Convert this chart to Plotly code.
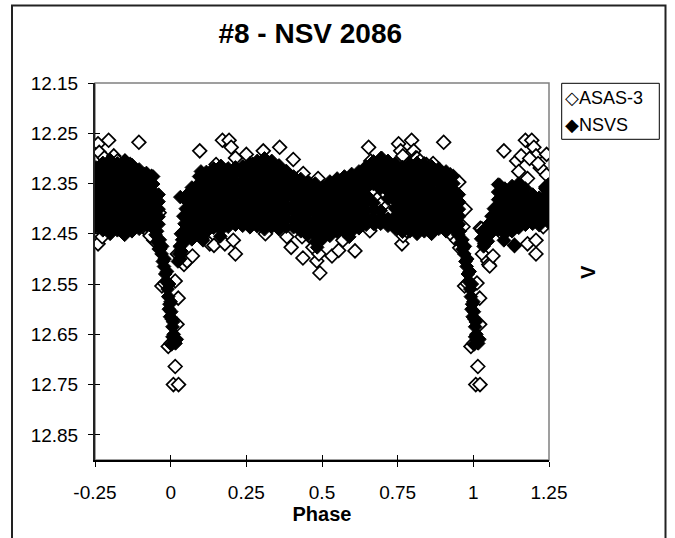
import plotly.graph_objects as go

W, H = 675, 538
PL, PR, PT, PB = 95, 549, 83, 460  # plot-area pixel edges

x_ticks = [-0.25, 0, 0.25, 0.5, 0.75, 1, 1.25]
x_tick_labels = ["-0.25", "0", "0.25", "0.5", "0.75", "1", "1.25"]
y_ticks = [12.15, 12.25, 12.35, 12.45, 12.55, 12.65, 12.75, 12.85]
y_tick_labels = ["12.15", "12.25", "12.35", "12.45", "12.55", "12.65", "12.75", "12.85"]

# ASAS-3 (open diamonds)
asas_phase = [
    -0.240, -0.236, -0.205, -0.219, -0.188, -0.176, -0.151, -0.134, -0.105, -0.117, -0.087, -0.063,
    -0.244, -0.236, -0.240, -0.226, -0.212, -0.169, -0.070, -0.056, -0.051, -0.037, -0.068, -0.038,
    -0.029, -0.020, 0.015, 0.025, 0.021, -0.008, 0.001, 0.015, 0.009, 0.026,
    0.022, 0.044, 0.054, 0.072, 0.093, 0.096, 0.115, 0.129, 0.143, 0.150, 0.164, 0.171, 0.179, 0.193, 0.200, 0.207, 0.214, 0.214, 0.228, 0.235,
    0.250, 0.271, 0.306, 0.313, 0.328, 0.360, 0.370, 0.384, 0.398, 0.405, 0.420, 0.438, 0.434, 0.437, 0.460, 0.470, 0.487, 0.483, 0.490, 0.493,
    0.512, 0.526, 0.533, 0.555, 0.569, 0.576, 0.609, 0.654, 0.661, 0.658, 0.675, 0.698, 0.710,
    0.668, 0.682, 0.696, 0.710, 0.724,
    0.753, 0.760, 0.767, 0.764, 0.768, 0.780, 0.796, 0.803, 0.810, 0.814, 0.824, 0.845, 0.867, 0.860, 0.902, 0.924, 0.930, 0.945, 0.952, 0.959, 0.955, 0.973, 0.966,
    0.971, 0.980, 1.012, 1.021, 1.021, 0.992, 1.001, 1.015, 1.008, 1.022,
    1.023, 1.028, 1.030, 1.048, 1.051, 1.054, 1.065, 1.094, 1.101, 1.136, 1.143, 1.158, 1.172, 1.193, 1.200, 1.207, 1.179, 1.179, 1.179, 1.207, 1.207, 1.221, 1.242, 1.242, 1.240, 1.242, 1.231, 1.165, 1.150, 1.186, 1.214,
]
asas_mag = [
    12.271, 12.288, 12.264, 12.299, 12.295, 12.305, 12.305, 12.312, 12.268, 12.326, 12.333, 12.336,
    12.422, 12.436, 12.470, 12.456, 12.439, 12.429, 12.449, 12.463, 12.408, 12.480, 12.454, 12.408,
    12.554, 12.549, 12.544, 12.578, 12.630, 12.674, 12.668, 12.714, 12.750, 12.750,
    12.490, 12.511, 12.504, 12.494, 12.449, 12.285, 12.408, 12.470, 12.473, 12.312, 12.436, 12.264, 12.470, 12.264, 12.278, 12.463, 12.490, 12.299, 12.360, 12.429,
    12.292, 12.312, 12.285, 12.450, 12.326, 12.278, 12.408, 12.456, 12.477, 12.302, 12.340, 12.330, 12.456, 12.498, 12.456, 12.477, 12.340, 12.504, 12.490, 12.528,
    12.449, 12.353, 12.494, 12.483, 12.463, 12.340, 12.484, 12.278, 12.305, 12.444, 12.429, 12.424, 12.319,
    12.372, 12.381, 12.390, 12.398, 12.407,
    12.271, 12.285, 12.295, 12.470, 12.454, 12.444, 12.264, 12.285, 12.299, 12.300, 12.305, 12.312, 12.310, 12.326, 12.268, 12.333, 12.453, 12.463, 12.347, 12.477, 12.478, 12.401, 12.436,
    12.554, 12.549, 12.548, 12.578, 12.630, 12.674, 12.668, 12.714, 12.750, 12.750,
    12.439, 12.440, 12.490, 12.504, 12.511, 12.514, 12.494, 12.449, 12.285, 12.473, 12.305, 12.295, 12.264, 12.264, 12.278, 12.295, 12.340, 12.425, 12.470, 12.490, 12.463, 12.319, 12.292, 12.333, 12.357, 12.425, 12.436, 12.380, 12.326, 12.300, 12.310,
]

# NSVS (filled diamonds): readings grouped in phase columns
nsvs_col_phase = [
    -0.247, -0.224, -0.200, -0.176, -0.152, -0.128, -0.104, -0.080, -0.058, -0.040,
    0.070, 0.094, 0.118, 0.142, 0.166, 0.190, 0.214, 0.238, 0.262, 0.286,
    0.310, 0.334, 0.358, 0.382, 0.406, 0.430, 0.454, 0.478, 0.502, 0.526,
    0.550, 0.574, 0.598, 0.622, 0.646, 0.670, 0.694, 0.718, 0.742, 0.766,
    0.790, 0.814, 0.838, 0.862, 0.886, 0.910, 0.934, 0.952,
    1.082, 1.104, 1.128, 1.150, 1.172, 1.196, 1.218, 1.238, 1.248,
]
nsvs_col_mags = [
    [12.318, 12.333, 12.348, 12.363, 12.377, 12.392, 12.407, 12.421, 12.436],
    [12.309, 12.325, 12.340, 12.355, 12.369, 12.384, 12.399, 12.414, 12.429, 12.443],
    [12.303, 12.317, 12.332, 12.347, 12.362, 12.377, 12.392, 12.406, 12.421, 12.436, 12.450],
    [12.310, 12.325, 12.340, 12.354, 12.369, 12.384, 12.399, 12.414, 12.428, 12.443],
    [12.306, 12.320, 12.335, 12.350, 12.365, 12.380, 12.394, 12.409, 12.424, 12.438, 12.452],
    [12.313, 12.327, 12.342, 12.357, 12.372, 12.387, 12.401, 12.416, 12.431, 12.445],
    [12.322, 12.336, 12.351, 12.366, 12.381, 12.396, 12.410, 12.425, 12.440],
    [12.329, 12.343, 12.358, 12.373, 12.387, 12.402, 12.417, 12.432],
    [12.336, 12.351, 12.366, 12.380, 12.395, 12.410, 12.425, 12.439],
    [12.372, 12.386, 12.401, 12.416, 12.431],
    [12.358, 12.373, 12.388, 12.402, 12.417, 12.432, 12.447, 12.461],
    [12.336, 12.350, 12.365, 12.380, 12.395, 12.410, 12.424, 12.439, 12.454],
    [12.327, 12.342, 12.357, 12.372, 12.386, 12.401, 12.416, 12.431, 12.446],
    [12.320, 12.335, 12.349, 12.364, 12.379, 12.394, 12.408, 12.423, 12.438],
    [12.315, 12.328, 12.343, 12.357, 12.372, 12.387, 12.402, 12.416, 12.431, 12.442],
    [12.320, 12.335, 12.350, 12.364, 12.379, 12.394, 12.409, 12.423, 12.436],
    [12.318, 12.329, 12.344, 12.358, 12.373, 12.388, 12.403, 12.417, 12.432],
    [12.316, 12.331, 12.346, 12.361, 12.376, 12.390, 12.405, 12.420, 12.434],
    [12.310, 12.324, 12.339, 12.353, 12.368, 12.383, 12.398, 12.412, 12.427, 12.437],
    [12.305, 12.317, 12.332, 12.347, 12.361, 12.376, 12.391, 12.405, 12.420, 12.435],
    [12.300, 12.311, 12.325, 12.339, 12.354, 12.369, 12.384, 12.398, 12.413, 12.428, 12.441],
    [12.305, 12.318, 12.332, 12.347, 12.362, 12.376, 12.391, 12.406, 12.421, 12.436],
    [12.314, 12.326, 12.340, 12.355, 12.369, 12.384, 12.399, 12.413, 12.428, 12.441],
    [12.325, 12.334, 12.348, 12.362, 12.377, 12.392, 12.406, 12.421, 12.436],
    [12.336, 12.350, 12.364, 12.378, 12.393, 12.407, 12.422, 12.437],
    [12.341, 12.356, 12.371, 12.385, 12.400, 12.415, 12.430, 12.445],
    [12.346, 12.362, 12.377, 12.392, 12.407, 12.421, 12.436, 12.451],
    [12.350, 12.365, 12.380, 12.395, 12.409, 12.424, 12.439, 12.453, 12.466],
    [12.357, 12.372, 12.387, 12.402, 12.417, 12.432, 12.446, 12.460],
    [12.346, 12.364, 12.379, 12.394, 12.409, 12.424, 12.439, 12.454],
    [12.340, 12.356, 12.371, 12.386, 12.401, 12.416, 12.431, 12.446],
    [12.336, 12.349, 12.364, 12.379, 12.394, 12.409, 12.424, 12.439, 12.446],
    [12.331, 12.342, 12.357, 12.372, 12.387, 12.402, 12.416, 12.431, 12.445],
    [12.326, 12.335, 12.350, 12.365, 12.380, 12.394, 12.409, 12.424, 12.439],
    [12.316, 12.328, 12.343, 12.358, 12.373, 12.387, 12.402, 12.417, 12.432],
    [12.306, 12.321, 12.336, 12.351, 12.388, 12.403, 12.418, 12.430],
    [12.300, 12.314, 12.329, 12.344, 12.359, 12.404, 12.418, 12.430],
    [12.305, 12.320, 12.335, 12.350, 12.365, 12.380, 12.420, 12.434],
    [12.310, 12.325, 12.340, 12.355, 12.370, 12.385, 12.400, 12.415, 12.430, 12.440],
    [12.317, 12.332, 12.347, 12.362, 12.377, 12.392, 12.407, 12.422, 12.437, 12.446],
    [12.310, 12.325, 12.340, 12.355, 12.370, 12.385, 12.400, 12.415, 12.430, 12.445],
    [12.309, 12.317, 12.332, 12.347, 12.362, 12.377, 12.392, 12.407, 12.422, 12.437, 12.450],
    [12.310, 12.325, 12.340, 12.355, 12.370, 12.385, 12.400, 12.415, 12.430, 12.445],
    [12.316, 12.331, 12.346, 12.361, 12.376, 12.391, 12.406, 12.421, 12.436, 12.450],
    [12.320, 12.335, 12.350, 12.365, 12.380, 12.395, 12.410, 12.425, 12.440],
    [12.326, 12.341, 12.356, 12.371, 12.386, 12.401, 12.416, 12.431, 12.445],
    [12.335, 12.350, 12.365, 12.380, 12.395, 12.410, 12.425, 12.440],
    [12.372, 12.386, 12.401, 12.416, 12.431],
    [12.352, 12.367, 12.382, 12.397, 12.412, 12.427, 12.442],
    [12.360, 12.375, 12.390, 12.405, 12.420, 12.435, 12.450],
    [12.355, 12.370, 12.385, 12.400, 12.415, 12.430, 12.445],
    [12.350, 12.365, 12.380, 12.395, 12.410, 12.425, 12.438],
    [12.360, 12.375, 12.390, 12.405, 12.420, 12.432],
    [12.372, 12.387, 12.402, 12.417, 12.430],
    [12.378, 12.393, 12.408, 12.423, 12.433],
    [12.360, 12.375, 12.390, 12.405, 12.420],
    [12.352, 12.367, 12.382, 12.397, 12.412, 12.427],
]

# NSVS readings along the eclipse branches and isolated points
nsvs_branch_phase = [
    -0.055, -0.050, -0.045, -0.042, -0.036, -0.035, -0.030, -0.028, -0.026, -0.022, -0.020, -0.018, -0.015, -0.012, -0.010, -0.008,
    -0.005, -0.004, 0.000, 0.002, -0.002, 0.004, 0.006, 0.008, -0.006, 0.010, 0.012, 0.016, 0.006, 0.020, 0.003,
    0.024, 0.028, 0.032, 0.030, 0.036, 0.038, 0.040, 0.034, 0.044, 0.046, 0.042, 0.050, 0.052, 0.054, 0.058, 0.060, 0.032, 0.064, 0.048,
    0.945, 0.950, 0.955, 0.958, 0.964, 0.965, 0.970, 0.972, 0.974, 0.978, 0.980, 0.982, 0.985, 0.988, 0.990, 0.992,
    0.995, 0.996, 1.000, 1.002, 0.998, 1.004, 1.006, 1.008, 0.994, 1.010, 1.012, 1.016, 1.006, 1.020, 1.003,
    1.026, 1.030, 1.034, 1.040, 1.044, 1.048, 1.052, 1.056, 1.060, 1.064, 1.068, 1.072, 1.036,
    0.100, 0.107, 0.164, 0.484, 0.590, 0.697, 1.101, 1.136, 1.087,
]
nsvs_branch_mag = [
    12.435, 12.452, 12.445, 12.468, 12.462, 12.480, 12.490, 12.475, 12.505, 12.515, 12.500, 12.530, 12.545, 12.525, 12.560, 12.575,
    12.550, 12.590, 12.585, 12.605, 12.615, 12.620, 12.635, 12.625, 12.600, 12.650, 12.662, 12.668, 12.655, 12.660, 12.670,
    12.505, 12.490, 12.500, 12.475, 12.485, 12.462, 12.470, 12.450, 12.445, 12.430, 12.415, 12.400, 12.420, 12.385, 12.370, 12.400, 12.377, 12.440, 12.460,
    12.435, 12.452, 12.445, 12.468, 12.462, 12.480, 12.490, 12.475, 12.505, 12.515, 12.500, 12.530, 12.545, 12.525, 12.560, 12.575,
    12.550, 12.590, 12.585, 12.605, 12.615, 12.620, 12.635, 12.625, 12.600, 12.650, 12.662, 12.668, 12.655, 12.660, 12.670,
    12.460, 12.445, 12.475, 12.455, 12.440, 12.465, 12.430, 12.450, 12.415, 12.440, 12.400, 12.425, 12.470,
    12.326, 12.463, 12.455, 12.477, 12.456, 12.299, 12.463, 12.473, 12.353,
]

nsvs_phase, nsvs_mag = [], []
for p, ms in zip(nsvs_col_phase, nsvs_col_mags):
    nsvs_phase += [p] * len(ms)
    nsvs_mag += ms
nsvs_phase += nsvs_branch_phase
nsvs_mag += nsvs_branch_mag

FONT = "Liberation Sans, Arial, sans-serif"


def fx(x):
    return (x - PL) / (PR - PL)


def fy(y):
    return (PB - y) / (PB - PT)


fig = go.Figure()
fig.add_trace(go.Scatter(
    x=asas_phase, y=asas_mag, mode="markers", name="ASAS-3",
    marker=dict(symbol="diamond", size=10.5, color="white", line=dict(color="black", width=1.7)),
))
fig.add_trace(go.Scatter(
    x=nsvs_phase, y=nsvs_mag, mode="markers", name="NSVS",
    marker=dict(symbol="diamond", size=10.5, color="black", line=dict(color="black", width=1)),
))
# empty trace to carry the inner (cross) tick marks
fig.add_trace(go.Scatter(x=[], y=[], xaxis="x2", yaxis="y2", showlegend=False, hoverinfo="skip"))

axis_common = dict(showgrid=False, zeroline=False, showline=True,
                   ticks="outside", ticklen=5, tickwidth=1, tickcolor="black", automargin=False)

fig.update_layout(
    width=W, height=H,
    margin=dict(l=PL, r=W - PR, t=PT, b=H - PB, pad=0),
    paper_bgcolor="white", plot_bgcolor="white",
    showlegend=False,
    font=dict(family=FONT, color="black"),
    title=dict(text="#8 - NSV 2086", x=320 / W, xanchor="center", xref="paper",
               y=1 - 33 / H, yanchor="middle", yref="container",
               font=dict(family=FONT, size=28, weight="bold", color="black")),
    xaxis=dict(range=[-0.25, 1.25], tickvals=x_ticks, ticktext=x_tick_labels,
               tickfont=dict(size=19, family=FONT), linewidth=1.5, linecolor="black", ticklabelstandoff=9,
               title=dict(text="Phase", font=dict(size=20, family=FONT, weight="bold"), standoff=4),
               **axis_common),
    yaxis=dict(range=[12.9, 12.15], tickvals=y_ticks, ticktext=y_tick_labels,
               tickfont=dict(size=19, family=FONT), linewidth=2, linecolor="#222", ticklabelstandoff=6,
               **axis_common),
    xaxis2=dict(range=[-0.25, 1.25], tickvals=x_ticks, overlaying="x", anchor="y", side="bottom",
                ticks="inside", ticklen=5, tickcolor="black", showticklabels=False,
                showgrid=False, zeroline=False, showline=False),
    yaxis2=dict(range=[12.9, 12.15], tickvals=y_ticks, overlaying="y", anchor="x", side="left",
                ticks="inside", ticklen=5, tickcolor="black", showticklabels=False,
                showgrid=False, zeroline=False, showline=False),
    shapes=[
        dict(type="rect", xref="paper", yref="paper", x0=0, x1=1, y0=0, y1=1,
             line=dict(color="#808080", width=1.5), layer="below"),
        dict(type="rect", xref="paper", yref="paper", x0=fx(12), x1=fx(665.5), y0=fy(560), y1=fy(5.5),
             line=dict(color="#222", width=2)),
        dict(type="rect", xref="paper", yref="paper", x0=fx(561.7), x1=fx(659.3), y0=fy(139.3), y1=fy(83.3),
             line=dict(color="black", width=1)),
    ],
    annotations=[
        dict(text="◇ASAS-3", x=fx(563), y=fy(98.3), xref="paper", yref="paper", xanchor="left",
             yanchor="middle", showarrow=False, font=dict(size=18, family=FONT)),
        dict(text="◆NSVS", x=fx(563), y=fy(125), xref="paper", yref="paper", xanchor="left",
             yanchor="middle", showarrow=False, font=dict(size=18, family=FONT)),
        dict(text="V", x=fx(588), y=fy(272), xref="paper", yref="paper", textangle=-90,
             xanchor="center", yanchor="middle", showarrow=False,
             font=dict(size=20, family=FONT, weight="bold")),
    ],
)

fig.write_html("out.html")
